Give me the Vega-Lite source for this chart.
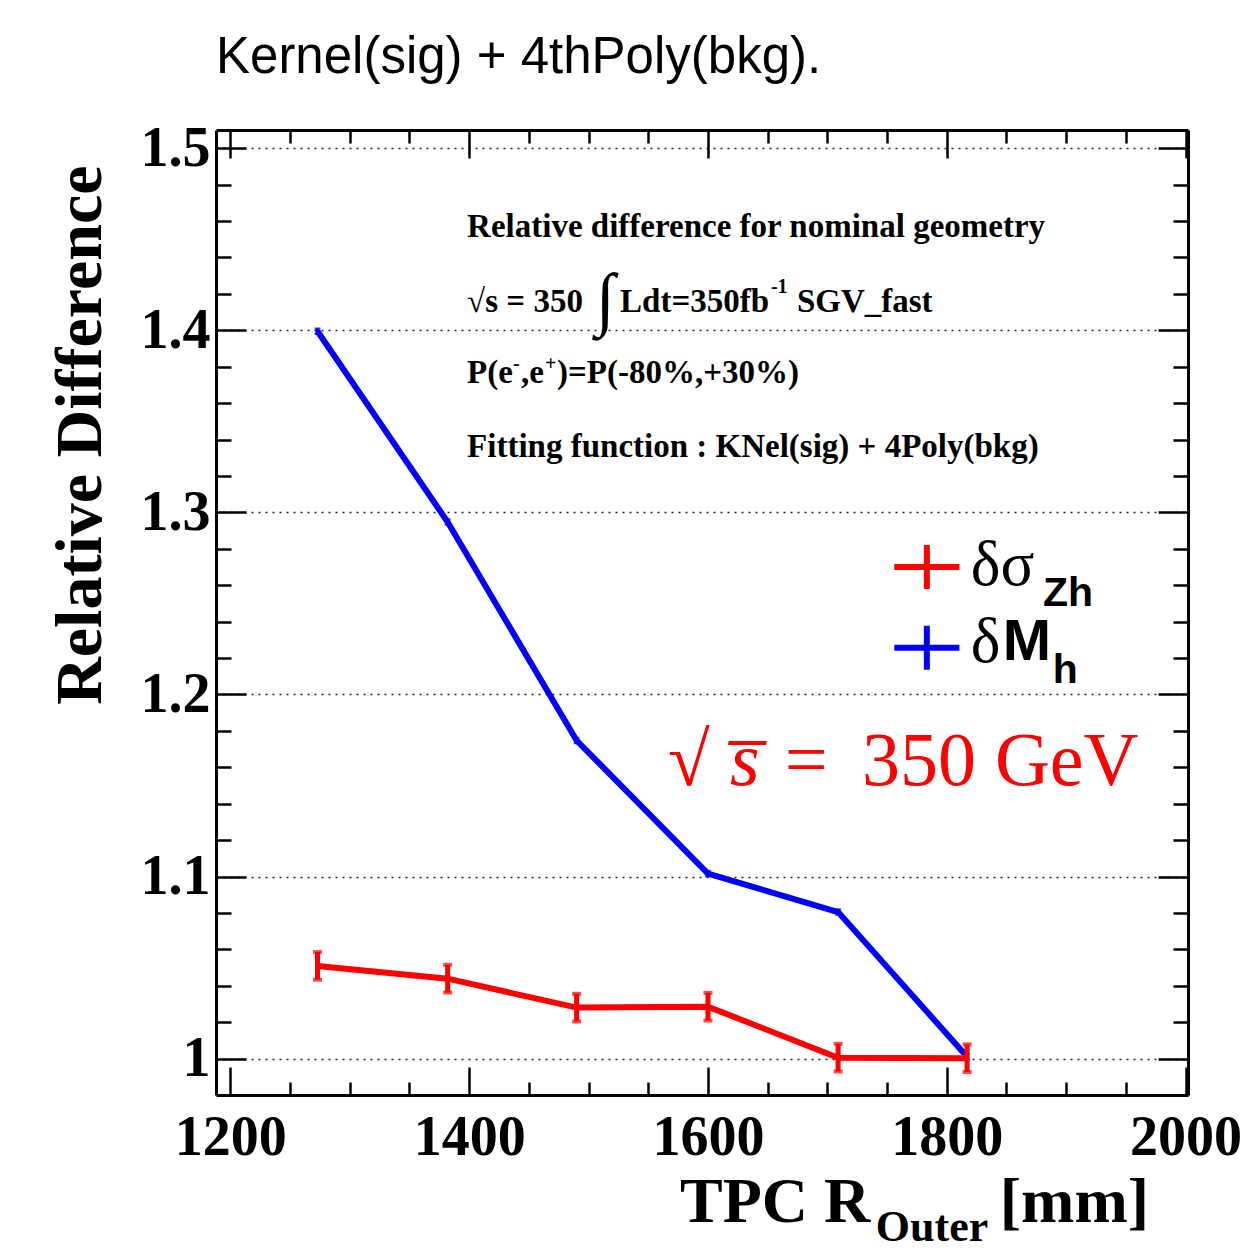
{
  "$schema": "https://vega.github.io/schema/vega-lite/v6.json",
  "width": 972,
  "height": 965,
  "autosize": {"type": "none"},
  "padding": {"left": 216, "top": 130, "right": 70, "bottom": 162},
  "background": "white",
  "config": {
    "view": {"stroke": null},
    "axis": {"domainColor": "black", "tickColor": "black", "labelColor": "black", "titleColor": "black"}
  },
  "title": {
    "text": "Kernel(sig) + 4thPoly(bkg).",
    "anchor": "start",
    "frame": "group",
    "font": "Liberation Sans",
    "fontSize": 51,
    "fontWeight": "normal",
    "offset": 36,
    "color": "black"
  },
  "datasets": {
    "dmh": [
      {"x": 1273, "y": 1.3995, "lo": 1.3980, "hi": 1.4010},
      {"x": 1382, "y": 1.2947, "lo": 1.2932, "hi": 1.2962},
      {"x": 1490, "y": 1.1747, "lo": 1.1732, "hi": 1.1762},
      {"x": 1600, "y": 1.1016, "lo": 1.1001, "hi": 1.1031},
      {"x": 1709, "y": 1.0805, "lo": 1.0790, "hi": 1.0820},
      {"x": 1817, "y": 1.0010, "lo": 0.9995, "hi": 1.0025}
    ],
    "dsig": [
      {"x": 1273, "y": 1.0509, "lo": 1.0433, "hi": 1.0585},
      {"x": 1382, "y": 1.0439, "lo": 1.0363, "hi": 1.0515},
      {"x": 1490, "y": 1.0280, "lo": 1.0204, "hi": 1.0356},
      {"x": 1600, "y": 1.0285, "lo": 1.0209, "hi": 1.0361},
      {"x": 1709, "y": 1.0005, "lo": 0.9929, "hi": 1.0081},
      {"x": 1817, "y": 1.0002, "lo": 0.9926, "hi": 1.0078}
    ],
    "note_main": [
      {"x": 1398.3, "y": 1.4512, "t": "Relative difference for nominal geometry"},
      {"x": 1398.3, "y": 1.4100, "t": "√s = 350"},
      {"x": 1526.4, "y": 1.4100, "t": "Ldt=350fb"},
      {"x": 1674.5, "y": 1.4100, "t": "SGV_fast"},
      {"x": 1398.3, "y": 1.3710, "t": "P(e"},
      {"x": 1443.5, "y": 1.3710, "t": ",e"},
      {"x": 1473.6, "y": 1.3710, "t": ")=P(-80%,+30%)"},
      {"x": 1398.3, "y": 1.3304, "t": "Fitting function : KNel(sig) + 4Poly(bkg)"}
    ],
    "note_sup": [
      {"x": 1652.7, "y": 1.4204, "t": "-1"},
      {"x": 1436.8, "y": 1.3782, "t": "-"},
      {"x": 1463.6, "y": 1.3782, "t": "+"}
    ],
    "note_int": [
      {"x": 1506.0, "y": 1.4045, "t": "∫"}
    ],
    "leg_sym": [
      {"x": 1783.3, "y": 1.2700, "s": "sig"},
      {"x": 1783.3, "y": 1.2256, "s": "mh"}
    ],
    "leg_greek": [
      {"x": 1820.1, "y": 1.2602, "t": "δσ"},
      {"x": 1820.1, "y": 1.2180, "t": "δ"}
    ],
    "leg_big": [
      {"x": 1846.9, "y": 1.2190, "t": "M"}
    ],
    "leg_sub": [
      {"x": 1880.5, "y": 1.2486, "t": "Zh"},
      {"x": 1888.7, "y": 1.2065, "t": "h"}
    ],
    "gev": [
      {"x": 1566.5, "y": 1.1504, "t": "√"},
      {"x": 1664.4, "y": 1.1504, "t": "="},
      {"x": 1728.9, "y": 1.1504, "t": "350 GeV"}
    ],
    "gev_s": [
      {"x": 1618.4, "y": 1.1504, "t": "s̅"}
    ],
    "xtitle_big": [
      {"x": 1576.6, "y": 0.9105, "t": "TPC R"},
      {"x": 1844.4, "y": 0.9105, "t": "[mm]"}
    ],
    "xtitle_sub": [
      {"x": 1740.6, "y": 0.8996, "t": "Outer"}
    ]
  },
  "data": {"name": "dmh"},
  "encoding": {
    "x": {"field": "x", "type": "quantitative", "scale": {"domain": [1188, 2002], "nice": false, "zero": false}, "axis": null},
    "y": {"field": "y", "type": "quantitative", "scale": {"domain": [0.98, 1.51], "nice": false, "zero": false}, "axis": null}
  },
  "layer": [
    {
      "mark": {"type": "point", "opacity": 0},
      "encoding": {
        "y": {"field": "y", "type": "quantitative", "scale": {"domain": [0.98, 1.51], "nice": false, "zero": false},
          "axis": {
            "orient": "left", "values": [1, 1.1, 1.2, 1.3, 1.4, 1.5],
            "tickSize": -30, "tickWidth": 2.5, "domainWidth": 3,
            "grid": true, "gridDash": [2, 5], "gridColor": "#222222", "gridWidth": 1.5, "gridOpacity": 1,
            "labelFont": "Liberation Serif", "labelFontWeight": "bold", "labelFontSize": 56, "labelPadding": 36,
            "labelFlush": false, "labelOverlap": false,
            "labelExpr": "datum.value == 1 ? '1' : format(datum.value, '.1f')",
            "title": "Relative Difference", "titleFont": "Liberation Serif", "titleFontWeight": "bold", "titleFontSize": 66,
            "titleAngle": 270, "titleAlign": "right", "titleBaseline": "alphabetic", "titleX": -116, "titleY": 35
          }
        }
      }
    },
    {
      "mark": {"type": "point", "opacity": 0},
      "encoding": {
        "y": {"field": "y", "type": "quantitative", "scale": {"domain": [0.98, 1.51], "nice": false, "zero": false},
          "axis": {
            "orient": "left", "values": [1.02, 1.04, 1.06, 1.08, 1.12, 1.14, 1.16, 1.18, 1.22, 1.24, 1.26, 1.28, 1.32, 1.34, 1.36, 1.38, 1.42, 1.44, 1.46, 1.48],
            "tickSize": -15, "tickWidth": 2.5, "domain": false, "labels": false, "grid": false, "title": null
          }
        }
      }
    },
    {
      "mark": {"type": "point", "opacity": 0},
      "encoding": {
        "y": {"field": "y", "type": "quantitative", "scale": {"domain": [0.98, 1.51], "nice": false, "zero": false},
          "axis": {
            "orient": "right", "values": [1, 1.1, 1.2, 1.3, 1.4, 1.5],
            "tickSize": -30, "tickWidth": 2.5, "domainWidth": 3, "labels": false, "grid": false, "title": null
          }
        }
      }
    },
    {
      "mark": {"type": "point", "opacity": 0},
      "encoding": {
        "y": {"field": "y", "type": "quantitative", "scale": {"domain": [0.98, 1.51], "nice": false, "zero": false},
          "axis": {
            "orient": "right", "values": [1.02, 1.04, 1.06, 1.08, 1.12, 1.14, 1.16, 1.18, 1.22, 1.24, 1.26, 1.28, 1.32, 1.34, 1.36, 1.38, 1.42, 1.44, 1.46, 1.48],
            "tickSize": -15, "tickWidth": 2.5, "domain": false, "labels": false, "grid": false, "title": null
          }
        }
      }
    },
    {
      "mark": {"type": "point", "opacity": 0},
      "encoding": {
        "x": {"field": "x", "type": "quantitative", "scale": {"domain": [1188, 2002], "nice": false, "zero": false},
          "axis": {
            "orient": "bottom", "values": [1200, 1400, 1600, 1800, 2000], "format": "d",
            "tickSize": -28, "tickWidth": 2.5, "domainWidth": 3, "grid": false,
            "labelFont": "Liberation Serif", "labelFontWeight": "bold", "labelFontSize": 56, "labelPadding": 43,
            "labelFlush": false, "labelOverlap": false, "title": null
          }
        }
      }
    },
    {
      "mark": {"type": "point", "opacity": 0},
      "encoding": {
        "x": {"field": "x", "type": "quantitative", "scale": {"domain": [1188, 2002], "nice": false, "zero": false},
          "axis": {
            "orient": "bottom", "values": [1250, 1300, 1350, 1450, 1500, 1550, 1650, 1700, 1750, 1850, 1900, 1950],
            "tickSize": -13, "tickWidth": 2.5, "domain": false, "labels": false, "grid": false, "title": null
          }
        }
      }
    },
    {
      "mark": {"type": "point", "opacity": 0},
      "encoding": {
        "x": {"field": "x", "type": "quantitative", "scale": {"domain": [1188, 2002], "nice": false, "zero": false},
          "axis": {
            "orient": "top", "values": [1200, 1400, 1600, 1800, 2000],
            "tickSize": -28, "tickWidth": 2.5, "domainWidth": 3, "labels": false, "grid": false, "title": null
          }
        }
      }
    },
    {
      "mark": {"type": "point", "opacity": 0},
      "encoding": {
        "x": {"field": "x", "type": "quantitative", "scale": {"domain": [1188, 2002], "nice": false, "zero": false},
          "axis": {
            "orient": "top", "values": [1250, 1300, 1350, 1450, 1500, 1550, 1650, 1700, 1750, 1850, 1900, 1950],
            "tickSize": -13, "tickWidth": 2.5, "domain": false, "labels": false, "grid": false, "title": null
          }
        }
      }
    },
    {
      "mark": {"type": "line", "color": "#0000ff", "strokeWidth": 6}
    },
    {
      "mark": {"type": "errorbar", "color": "#0000ff", "ticks": {"size": 6, "thickness": 2}, "rule": {"strokeWidth": 4}},
      "encoding": {
        "y": {"field": "lo", "type": "quantitative", "scale": {"domain": [0.98, 1.51], "nice": false, "zero": false}, "axis": null},
        "y2": {"field": "hi"}
      }
    },
    {
      "data": {"name": "dsig"},
      "mark": {"type": "line", "color": "#ff0000", "strokeWidth": 6}
    },
    {
      "data": {"name": "dsig"},
      "mark": {"type": "errorbar", "color": "#ff0000", "ticks": {"size": 9, "thickness": 4}, "rule": {"strokeWidth": 5}},
      "encoding": {
        "y": {"field": "lo", "type": "quantitative", "scale": {"domain": [0.98, 1.51], "nice": false, "zero": false}, "axis": null},
        "y2": {"field": "hi"}
      }
    },
    {
      "data": {"name": "note_main"},
      "mark": {"type": "text", "font": "Liberation Serif", "fontWeight": "bold", "fontSize": 33, "align": "left", "baseline": "alphabetic", "color": "black"},
      "encoding": {"text": {"field": "t"}}
    },
    {
      "data": {"name": "note_sup"},
      "mark": {"type": "text", "font": "Liberation Serif", "fontWeight": "bold", "fontSize": 20, "align": "left", "baseline": "alphabetic", "color": "black"},
      "encoding": {"text": {"field": "t"}}
    },
    {
      "data": {"name": "note_int"},
      "mark": {"type": "text", "font": "Liberation Serif", "fontSize": 70, "align": "left", "baseline": "alphabetic", "color": "black"},
      "encoding": {"text": {"field": "t"}}
    },
    {
      "data": {"name": "leg_sym"},
      "mark": {"type": "point", "shape": "M-1.48,0H1.48M0,-1V1", "size": 1936, "filled": false, "strokeWidth": 6, "opacity": 1},
      "encoding": {
        "color": {"field": "s", "type": "nominal", "scale": {"domain": ["sig", "mh"], "range": ["#ff0000", "#0000ff"]}, "legend": null}
      }
    },
    {
      "data": {"name": "leg_greek"},
      "mark": {"type": "text", "font": "Liberation Serif", "fontSize": 63, "align": "left", "baseline": "alphabetic", "color": "black"},
      "encoding": {"text": {"field": "t"}}
    },
    {
      "data": {"name": "leg_big"},
      "mark": {"type": "text", "font": "Liberation Sans", "fontWeight": "bold", "fontSize": 58, "align": "left", "baseline": "alphabetic", "color": "black"},
      "encoding": {"text": {"field": "t"}}
    },
    {
      "data": {"name": "leg_sub"},
      "mark": {"type": "text", "font": "Liberation Sans", "fontWeight": "bold", "fontSize": 41, "align": "left", "baseline": "alphabetic", "color": "black"},
      "encoding": {"text": {"field": "t"}}
    },
    {
      "data": {"name": "gev"},
      "mark": {"type": "text", "font": "Liberation Serif", "fontSize": 76, "align": "left", "baseline": "alphabetic", "color": "#ff0000"},
      "encoding": {"text": {"field": "t"}}
    },
    {
      "data": {"name": "gev_s"},
      "mark": {"type": "text", "font": "Liberation Serif", "fontStyle": "italic", "fontSize": 76, "align": "left", "baseline": "alphabetic", "color": "#ff0000"},
      "encoding": {"text": {"field": "t"}}
    },
    {
      "data": {"name": "xtitle_big"},
      "mark": {"type": "text", "font": "Liberation Serif", "fontWeight": "bold", "fontSize": 64, "align": "left", "baseline": "alphabetic", "color": "black"},
      "encoding": {"text": {"field": "t"}}
    },
    {
      "data": {"name": "xtitle_sub"},
      "mark": {"type": "text", "font": "Liberation Serif", "fontWeight": "bold", "fontSize": 44, "align": "left", "baseline": "alphabetic", "color": "black"},
      "encoding": {"text": {"field": "t"}}
    }
  ],
  "resolve": {"axis": {"x": "independent", "y": "independent"}}
}
